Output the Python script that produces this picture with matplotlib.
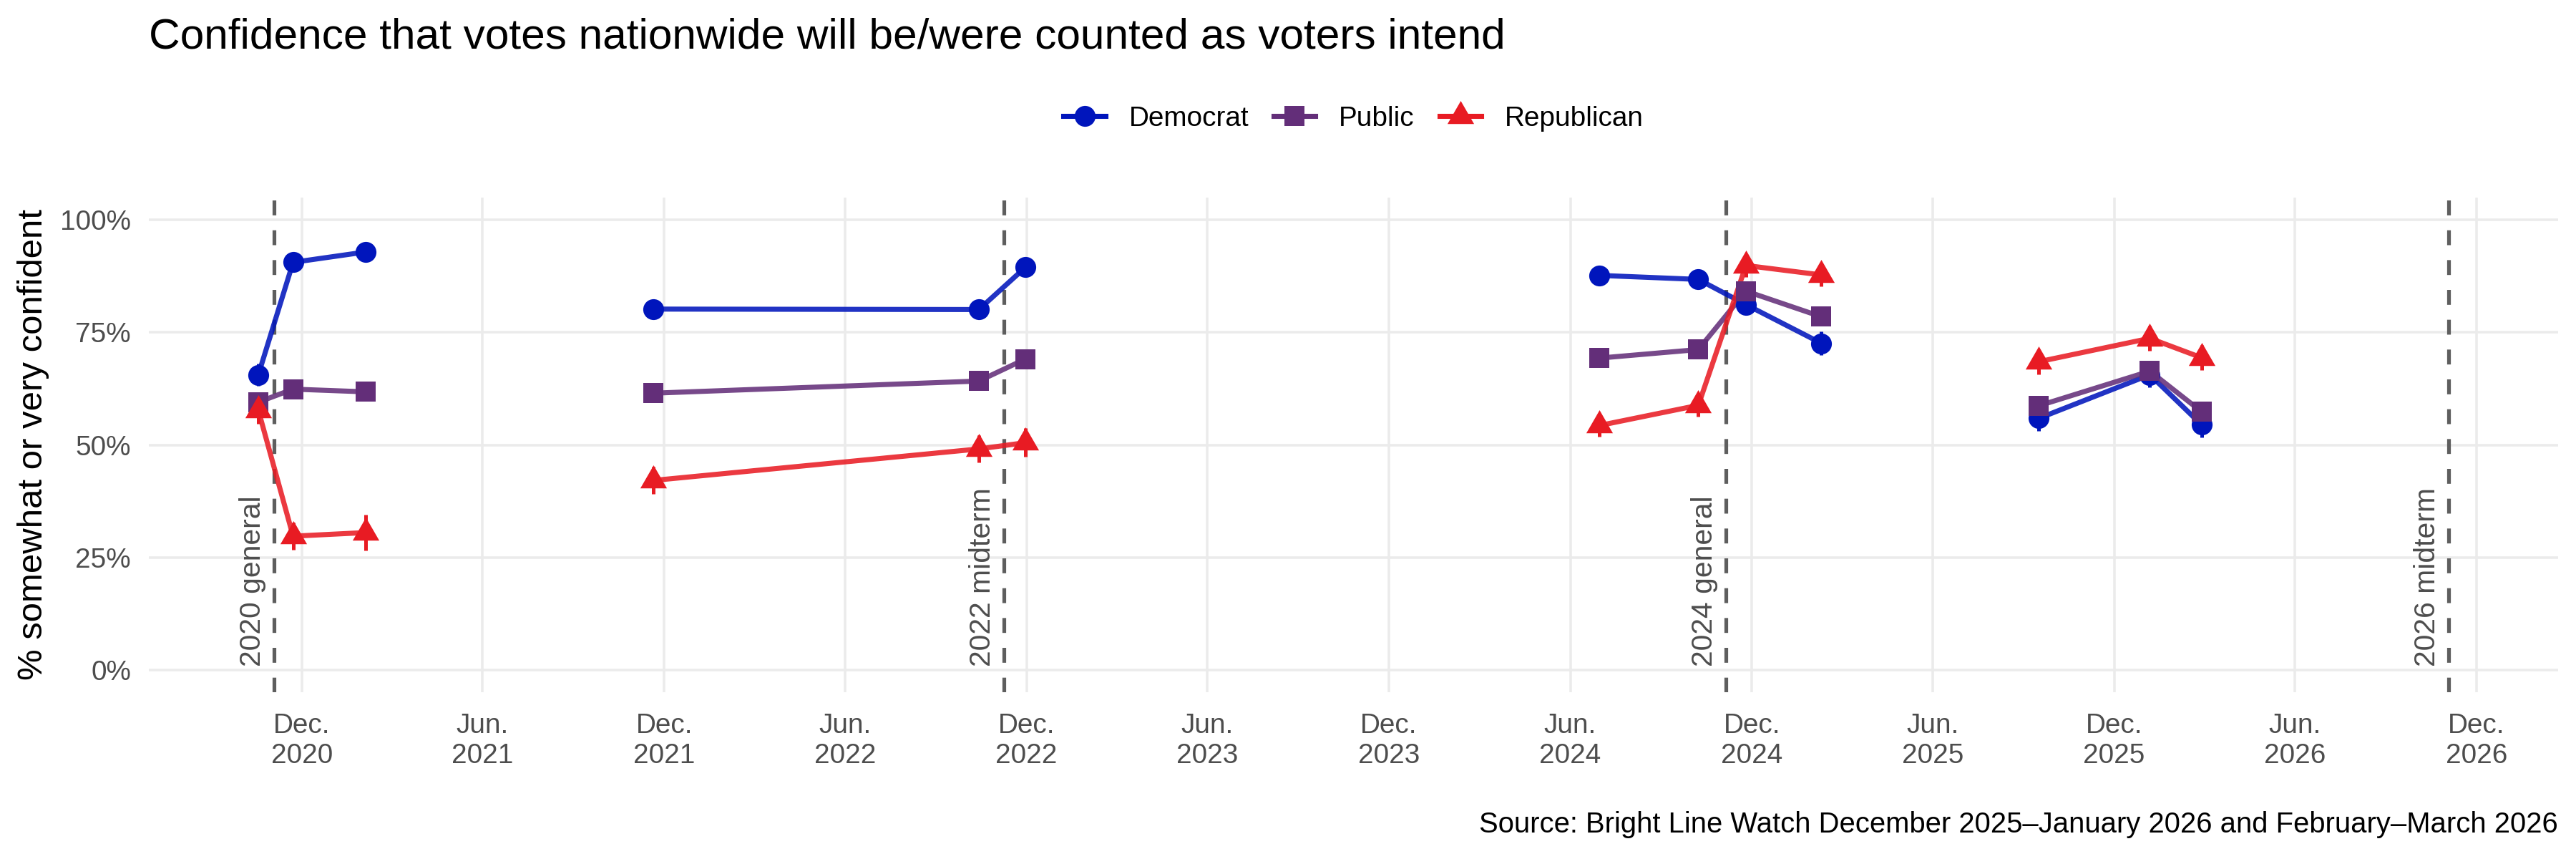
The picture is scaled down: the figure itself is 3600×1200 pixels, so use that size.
import datetime as dt
import matplotlib
matplotlib.use("Agg")
import matplotlib.pyplot as plt
from matplotlib.lines import Line2D

plt.rcParams['font.family'] = ['Liberation Sans', 'DejaVu Sans']

# ---------------- data ----------------
survey_dates = ["2020-10-18", "2020-11-22", "2021-02-03",
                "2021-11-20", "2022-10-14", "2022-11-30",
                "2024-06-30", "2024-10-08", "2024-11-25", "2025-02-09",
                "2025-09-16", "2026-01-06", "2026-02-27"]
period = [1, 1, 1, 2, 2, 2, 3, 3, 3, 3, 4, 4, 4]

democrat = [65.6, 90.6, 92.9, 80.2, 80.1, 89.5, 87.7, 86.8, 81.2, 72.6, 55.9, 65.6, 54.5]
public = [59.5, 62.4, 61.8, 61.5, 64.2, 69.1, 69.3, 71.2, 84.2, 78.5, 58.7, 66.4, 57.4]
republican = [57.7, 29.7, 30.5, 42.1, 49.1, 50.5, 54.3, 58.8, 89.9, 87.8, 68.5, 73.7, 69.4]

democrat_moe = [2.5, 2.0, 2.0, 2.0, 2.0, 2.0, 2.0, 2.0, 2.0, 2.6, 2.8, 2.8, 2.8]
public_moe = [2.0, 1.5, 2.0, 1.5, 1.5, 1.5, 1.5, 1.5, 1.5, 1.5, 1.8, 1.8, 1.8]
republican_moe = [3.0, 3.0, 4.0, 3.0, 3.0, 3.2, 2.5, 2.5, 2.5, 2.5, 2.8, 2.8, 2.8]

election_dates = ["2020-11-03", "2022-11-08", "2024-11-05", "2026-11-03"]
election_labels = ["2020 general", "2022 midterm", "2024 general", "2026 midterm"]

tick_dates = ["2020-12-01", "2021-06-01", "2021-12-01", "2022-06-01", "2022-12-01",
              "2023-06-01", "2023-12-01", "2024-06-01", "2024-12-01", "2025-06-01",
              "2025-12-01", "2026-06-01", "2026-12-01"]
tick_labels = ["Dec.\n2020", "Jun.\n2021", "Dec.\n2021", "Jun.\n2022", "Dec.\n2022",
               "Jun.\n2023", "Dec.\n2023", "Jun.\n2024", "Dec.\n2024", "Jun.\n2025",
               "Dec.\n2025", "Jun.\n2026", "Dec.\n2026"]
y_ticks = [0, 25, 50, 75, 100]
y_tick_labels = ["0%", "25%", "50%", "75%", "100%"]

series_names = ["Democrat", "Public", "Republican"]
series_values = [democrat, public, republican]
series_moe = [democrat_moe, public_moe, republican_moe]

title = "Confidence that votes nationwide will be/were counted as voters intend"
y_title = "% somewhat or very confident"
caption = "Source: Bright Line Watch December 2025\u2013January 2026 and February\u2013March 2026"

# ---------------- style ----------------
colors = ["#0015BC", "#632E79", "#E81B23"]
tri = [(0, 1), (-0.866, -0.5), (0.866, -0.5)]
markers = ["o", "s", tri]
msizes = [7.0, 6.9, 10.3]
LW = 1.7
GRAY30 = "#4D4D4D"

def d(s):
    return dt.datetime.strptime(s, "%Y-%m-%d")

x = [d(s) for s in survey_dates]
ex = [d(s) for s in election_dates]

W, H = 3600, 1200
fig = plt.figure(figsize=(12, 4), dpi=300)
ax = fig.add_axes([208 / W, 1 - 967 / H, (3575 - 208) / W, (967 - 276) / H])

# grid
ax.set_axisbelow(True)
ax.grid(True, color="#EBEBEB", linewidth=0.85)
for s in ax.spines.values():
    s.set_visible(False)
ax.tick_params(length=0)

# election lines
for xd, lab in zip(ex, election_labels):
    ax.axvline(xd, color="#5E5E5E", linewidth=1.25, linestyle=(0, (4, 4)), zorder=1.5)
    ax.annotate(lab, xy=(xd, 0.8), xycoords="data", xytext=(-2.6, 0),
                textcoords="offset points", rotation=90, ha="right", va="bottom",
                fontsize=9.8, color=GRAY30, zorder=1.6)

# lines by period
periods = sorted(set(period))
for vals, col in zip(series_values, colors):
    for p in periods:
        idx = [i for i, pp in enumerate(period) if pp == p]
        ax.plot([x[i] for i in idx], [vals[i] for i in idx], color=col,
                linewidth=LW, alpha=0.87, solid_capstyle="butt", zorder=2)

# error bars
for vals, moe, col in zip(series_values, series_moe, colors):
    ax.errorbar(x, vals, yerr=moe, fmt="none", ecolor=col, elinewidth=1.2,
                capsize=0, zorder=3)

# points
for vals, col, mk, ms in zip(series_values, colors, markers, msizes):
    ax.plot(x, vals, linestyle="none", marker=mk, markersize=ms, color=col,
            markeredgewidth=0, zorder=4)

# scales
xmin = min(x)
xmax = max(max(x), max(ex))
span = xmax - xmin
ax.set_xlim(xmin - span * 0.05, xmax + span * 0.05)
ax.set_ylim(-5, 105)
ax.set_xticks([d(s) for s in tick_dates])
ax.set_xticklabels(tick_labels, fontsize=9.3, color=GRAY30, linespacing=1.22)
ax.set_yticks(y_ticks)
ax.set_yticklabels(y_tick_labels, fontsize=9.3, color=GRAY30)
ax.tick_params(axis="x", pad=7.0)
ax.tick_params(axis="y", pad=6.0)

# texts
fig.text(208 / W, 1 - 67 / H, title, fontsize=14.5, color="black",
         ha="left", va="baseline")
fig.text(47 / W, 1 - 621 / H, y_title, fontsize=11.8, color="black",
         rotation=90, ha="center", va="center")
fig.text(3575 / W, 1 - 1163 / H, caption, fontsize=9.6, color="black",
         ha="right", va="baseline")

# legend
handles = [Line2D([0], [0], color=c, linewidth=LW, marker=m, markersize=ms,
                  markeredgewidth=0) for c, m, ms in zip(colors, markers, msizes)]
fig.legend(handles, series_names, loc="center",
           bbox_to_anchor=((208 + 3575) / 2 / W, 1 - 166 / H),
           ncol=3, frameon=False, fontsize=9.3, handlelength=1.5,
           handletextpad=0.85, columnspacing=0.9, borderpad=0, borderaxespad=0)

fig.savefig("out.png", dpi=300)
